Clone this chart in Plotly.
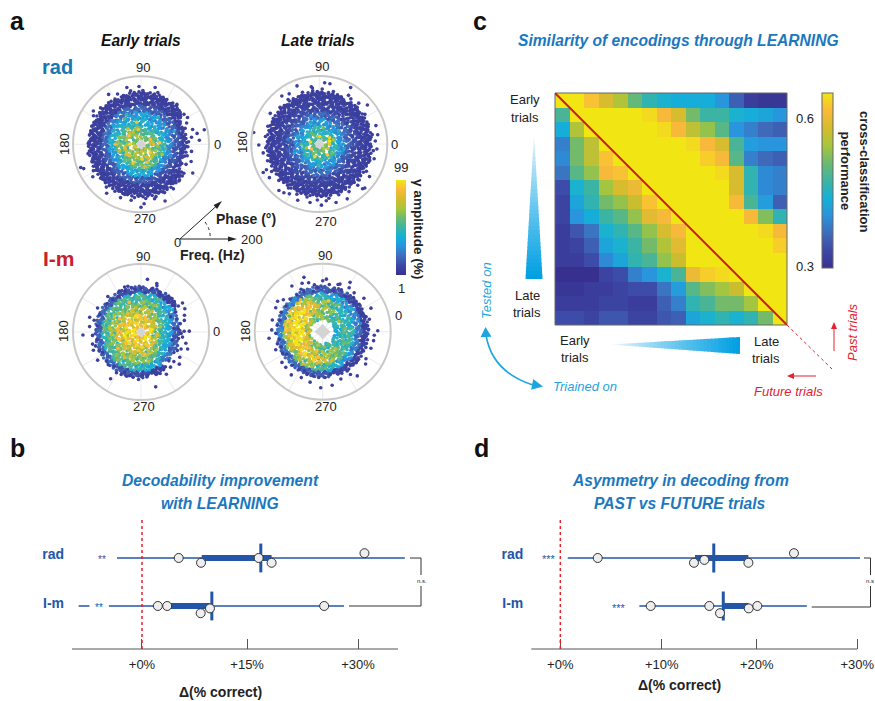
import math
import plotly.graph_objects as go

W, H = 875, 701
FONT = "Liberation Sans"
BLUE_T = "#1b78bf"
BAR_BLUE = "#2356a8"
PARULA = [[0.0, "#38308f"], [0.1, "#3d48a6"], [0.2, "#3f6cbb"], [0.3, "#2a93dc"], [0.4, "#14b1d8"],
          [0.5, "#3cb4a4"], [0.6, "#6cb970"], [0.7, "#a7c63c"], [0.8, "#d4bc2d"], [0.9, "#fbb93a"], [1.0, "#f1e614"]]

# ---------- panel a: gamma amplitude by frequency (Hz) and phase (deg) ----------
THETA_BINS = [0, 22.5, 45, 67.5, 90, 112.5, 135, 157.5, 180, 202.5, 225, 247.5, 270, 292.5, 315, 337.5]
RING_BASES = [15, 35, 55, 75, 95, 115, 135]

RAD_EARLY_GRID = [
    [62, 64, 60, 58, 66, 62, 60, 55, 64, 70, 64, 66, 70, 64, 62, 58],
    [55, 54, 52, 46, 48, 55, 62, 62, 60, 64, 68, 66, 62, 66, 64, 58],
    [46, 40, 38, 34, 38, 42, 48, 54, 54, 50, 52, 54, 54, 54, 46, 48],
    [26, 28, 28, 30, 34, 32, 36, 38, 36, 32, 34, 36, 36, 32, 28, 26],
    [14, 16, 16, 16, 18, 20, 22, 20, 18, 16, 16, 16, 16, 14, 14, 14],
    [8, 8, 8, 8, 8, 8, 8, 8, 8, 8, 8, 8, 8, 8, 8, 8],
    [0, 0, 7, 7, 7, 7, 7, 7, 7, 7, 7, 7, 7, 7, 7, 0],
]
RAD_LATE_GRID = [
    [55, 50, 55, 50, 52, 50, 55, 50, 50, 48, 52, 55, 52, 55, 60, 62],
    [42, 40, 42, 38, 42, 42, 42, 38, 40, 40, 42, 48, 48, 42, 45, 45],
    [30, 28, 28, 28, 30, 30, 28, 28, 26, 26, 28, 30, 32, 28, 30, 28],
    [18, 18, 18, 16, 18, 18, 16, 16, 14, 16, 16, 18, 18, 18, 18, 16],
    [11, 11, 10, 10, 10, 11, 10, 10, 10, 10, 11, 10, 10, 10, 11, 10],
    [8, 8, 8, 8, 8, 8, 8, 8, 8, 8, 8, 8, 8, 8, 8, 8],
    [7, 7, 7, 7, 7, 7, 7, 7, 7, 7, 7, 7, 7, 7, 7, 7],
]
LM_EARLY_GRID = [
    [90, 88, 86, 88, 85, 84, 86, 90, 90, 88, 85, 85, 82, 88, 88, 86],
    [60, 70, 75, 78, 78, 80, 82, 85, 85, 85, 82, 84, 80, 78, 70, 62],
    [44, 52, 58, 64, 66, 68, 70, 74, 74, 74, 72, 70, 68, 64, 56, 46],
    [32, 40, 46, 54, 56, 58, 58, 62, 62, 58, 62, 62, 56, 52, 42, 36],
    [14, 22, 34, 45, 50, 48, 50, 50, 50, 50, 54, 48, 42, 35, 22, 16],
    [0, 0, 8, 12, 14, 12, 16, 18, 16, 18, 18, 14, 12, 8, 0, 0],
    [0, 0, 0, 0, 0, 0, 0, 0, 0, 0, 0, 0, 0, 0, 0, 0],
]
LM_LATE_GRID = [
    [0, 0, 0, 0, 0, 0, 0, 0, 0, 0, 0, 0, 0, 0, 0, 0],
    [38, 42, 48, 52, 60, 58, 62, 64, 70, 68, 66, 62, 56, 45, 44, 40],
    [50, 48, 48, 55, 62, 72, 86, 90, 92, 88, 80, 72, 62, 58, 52, 48],
    [45, 42, 42, 50, 60, 80, 92, 96, 94, 92, 90, 80, 70, 60, 52, 48],
    [20, 25, 28, 36, 44, 60, 75, 80, 78, 70, 62, 58, 48, 38, 30, 22],
    [8, 8, 10, 14, 15, 18, 24, 22, 25, 20, 18, 16, 15, 10, 8, 8],
    [0, 0, 0, 0, 0, 0, 0, 0, 0, 0, 0, 0, 0, 0, 0, 0],
]
# dots per cell of each ring, with a hand-set stipple inside a cell: (phase share, frequency share, amplitude scale)
RING_DOTS = [3, 6, 9, 12, 15, 20, 22]
STIPPLE = [(.12,.30,.80),(.71,.62,1.18),(.38,.88,.95),(.92,.14,1.05),(.55,.33,.85),(.24,.68,1.22),(.83,.91,.90),(.05,.95,1.10),
           (.63,.08,.78),(.44,.56,1.15),(.97,.47,.92),(.31,.12,1.02),(.16,.50,.88),(.76,.28,1.12),(.50,.76,1.00),(.88,.70,.83),
           (.28,.40,1.08),(.60,.96,.86),(.02,.22,.94),(.80,.52,1.14),(.35,.74,.82),(.67,.36,1.04),(.20,.04,.97),(.47,.18,1.2)]

# outer, low-amplitude spikes: (phase, frequency)
RAD_EARLY_OUTER = [(13,191),(4,172),(11,168),(92,170),(104,172),(76,172),(123,175),(145,171),(149,163),(201,190),(203,183),(214,171),(235,176),(249,168),(260,167),(270,185),(273,175),(293,181),(286,160),(331,174),(48,158),(30,158),(16,158),
    (3,140),(8,150),(20,138),(25,148),(35,142),(41,135),(55,146),(60,152),(66,140),(72,160),(82,150),(88,158),(97,148),(101,160),(110,152),(115,163),(120,148),(128,155),(134,142),(138,160),(143,150),(152,146),(158,150),(163,138),(168,152),(174,144),(179,155),(185,147),(190,158),(194,142),(199,152),(205,148),(209,160),(215,145),(220,155),(226,150),(231,162),(236,146),(241,158),(246,148),(252,155),(257,145),(263,158),(268,150),(275,160),(280,148),(284,165),(290,150),(296,158),(301,146),(306,162),(311,145),(316,155),(321,142),(326,152),(336,145),(341,156),(346,140),(352,150),(357,138),
    (10,128),(28,130),(45,126),(62,132),(85,135),(105,136),(125,134),(150,133),(172,132),(192,135),(212,132),(232,136),(250,134),(272,138),(292,136),(312,134),(332,130),(350,126)]
RAD_LATE_OUTER = [(80,180),(85,181),(111,183),(98,170),(97,166),(61,190),(59,167),(128,179),(121,172),(39,182),(46,167),(148,170),(18,175),(9,174),(170,196),(181,178),(189,167),(207,185),(206,173),(214,177),(229,181),(234,177),(239,171),(249,177),(261,174),(272,180),(277,168),(286,179),(297,181),(314,183),(316,186),(313,166),(327,176),(345,167),(355,170),(3,165),
    (5,150),(10,158),(15,148),(22,155),(27,145),(33,160),(38,150),(44,155),(50,148),(55,162),(65,152),(70,145),(75,160),(80,150),(87,162),(92,150),(97,158),(103,148),(108,160),(114,152),(120,145),(125,160),(131,150),(137,158),(143,148),(151,155),(156,146),(161,160),(166,150),(172,160),(177,148),(184,158),(193,150),(198,160),(203,148),(210,162),(217,150),(222,160),(228,148),(235,158),(241,150),(246,162),(252,148),(257,160),(263,150),(268,165),(274,152),(280,162),(284,148),(291,160),(296,150),(302,165),(308,150),(318,158),(323,148),(330,160),(336,148),(342,156),(348,148),(353,160),(358,150),
    (0,138),(40,138),(85,140),(118,136),(150,138),(190,140),(240,136),(270,140),(300,138),(340,136)]
LM_EARLY_OUTER = [(83,156),(72,150),(71,144),(106,140),(110,141),(133,143),(164,157),(174,152),(183,171),(184,143),(201,150),(213,152),(237,164),(245,138),(267,140),(285,167),(301,145),(310,135),(320,147),(340,146),(346,136),(1,142),(1,127),(15,132),(21,137),(28,146),(35,149),(30,118),(49,132),(47,122),(63,124),(76,131),(84,116),(98,126),(131,126),(118,136),(151,146),(166,142),(194,147),(204,135),(220,133),(239,140),(252,137),(260,135),(278,131),(294,115),(314,118),(333,120),(353,123),(6,97),(27,98),(345,95),(328,114),
    (5,110),(12,118),(20,112),(40,122),(55,118),(65,130),(90,128),(102,132),(112,128),(122,124),(140,130),(157,132),(172,130),(190,132),(197,140),(208,128),(225,136),(232,128),(248,128),(256,132),(272,128),(288,125),(305,125),(318,130),(327,136),(337,128),(350,112),(358,118)]
LM_LATE_OUTER = [(109,169),(86,155),(90,150),(113,155),(106,150),(124,162),(117,140),(70,149),(61,166),(72,146),(59,151),(51,147),(39,156),(26,158),(15,142),(1,162),(356,152),(350,152),(341,150),(328,150),(323,158),(308,165),(303,150),(291,149),(280,160),(268,165),(256,153),(245,149),(234,157),(217,150),(187,159),(178,150),(167,152),(146,160),(141,149),(135,136),(153,155),(201,148),(195,138),(208,134),(224,151),(245,127),(258,133),(273,135),(302,136),(320,133),(340,135),(347,115),(7,118),(19,135),(37,134),(43,125),(58,124),(75,124),(96,131),(103,123),
    (3,135),(10,125),(25,130),(32,125),(48,135),(66,135),(82,140),(100,140),(115,130),(125,132),(145,132),(155,135),(165,130),(172,135),(182,138),(190,130),(200,130),(212,125),(228,132),(238,130),(250,132),(265,135),(280,128),(295,125),(312,128),(328,122),(335,130),(352,125)]
OUTER_AMP = 7

# stand-out spikes: (phase, frequency, amplitude)
RAD_EARLY_CORE = [(101,66,92),(145,43,90),(180,76,90),(192,49,85),(180,33,95),(100,44,90),(247,60,92),(288,56,90),(274,43,95),(317,37,93),(5,55,92),(0,37,85),(29,31,88),(130,59,80),(197,66,75),(123,42,75),(280,66,82),(334,69,70),(123,89,55),(116,97,50),(58,94,45),(22,105,38),(101,97,35),(146,100,35),(220,85,45),(268,90,35),(307,94,30),(338,94,30),(189,94,32),(252,90,38)]
RAD_LATE_CORE = [(15,31,99),(31,35,95),(0,30,92),(88,23,95),(167,27,95),(213,27,90),(250,39,95),(307,40,92),(17,43,70),(197,40,70),(180,53,55),(125,40,60),(76,49,60),(324,46,60),(267,62,50),(225,55,45),(160,67,42),(34,68,45),(200,78,38),(347,73,35),(293,83,30),(106,86,30),(172,94,25),(31,100,22)]
LM_EARLY_CORE = [(148,74,90),(172,69,88),(125,67,85),(110,69,80),(197,68,92),(219,55,90),(215,83,88),(262,55,92),(280,66,90),(272,45,95),(317,37,93),(348,48,82),(15,59,70),(39,48,75),(73,42,90),(118,28,96),(200,30,95),(172,34,94),(208,43,90),(255,88,72),(237,89,80),(284,88,75),(174,93,70),(202,95,65),(127,106,60),(112,94,88),(75,88,60),(53,87,50),(0,72,45),(324,77,45)]
LM_LATE_CORE = [(117,95,92),(145,95,95),(171,94,92),(204,85,99),(233,88,95),(260,76,90),(287,89,80),(146,45,80),(331,71,60),(33,56,75),(79,92,92),(100,76,80),(8,67,62),(306,62,75),(252,58,90),(239,111,78),(38,105,45),(188,109,70),(155,108,55),(281,117,35)]

HOLE_THETA = [0, 45, 90, 135, 180, 225, 270, 315]
HOLE_R = [15, 11, 16, 11, 15, 11, 16, 11]
HOLE_R_LM_LATE = [24, 15, 23, 16, 25, 15, 24, 16]

# ---------- panel c ----------
CROSS_PERF_PCT = [
    [65,65,62,58,55,50,46,44,43,43,43,40,35,31,30,30],
    [48,65,65,65,65,65,64,61,58,51,47,47,44,43,42,40],
    [43,55,65,65,65,65,65,64,61,56,53,49,40,38,36,35],
    [38,51,56,65,65,65,65,65,65,64,61,58,48,41,40,40],
    [39,51,56,62,65,65,65,65,65,65,63,61,49,38,36,35],
    [37,49,53,61,62,65,65,65,65,65,65,64,58,46,39,38],
    [33,44,47,54,58,60,65,65,65,65,65,65,58,46,39,38],
    [32,42,46,51,53,57,62,65,65,65,65,65,61,48,41,35],
    [32,40,43,47,49,53,59,61,65,65,65,65,65,61,52,46],
    [31,34,37,44,46,49,53,58,61,65,65,65,65,65,64,61],
    [31,32,35,42,44,47,51,55,59,65,65,65,65,65,65,63],
    [31,31,33,39,42,46,48,53,57,65,65,65,65,65,65,65],
    [29,29,29,32,33,38,40,44,48,60,63,64,65,65,65,65],
    [30,30,31,31,32,33,33,37,41,49,52,54,57,65,65,65],
    [31,31,31,32,32,31,31,35,38,46,48,51,51,54,65,65],
    [33,33,32,34,34,32,32,34,35,42,44,46,44,46,51,65],
]

# ---------- panels b, d ----------
CATS = ["I-m", "rad"]
B_TICKVALS = [0, 14.6, 30]
B_TICKTEXT = ["+0%", "+15%", "+30%"]
B_RANGE_RAD = (-3.47, 36.5, 8.3, 18.0, 16.5)     # whisker lo, hi, box lo, hi, median
B_RANGE_LM = (-4.6, 28.05, 3.3, 9.4, 9.7)
B_RAD_X = [5.1, 8.2, 16.2, 18.0, 30.9]
B_RAD_Y = [2.0, 1.9, 2.0, 1.9, 2.1]
B_LM_X = [2.2, 3.5, 8.15, 9.44, 25.3]
B_LM_Y = [1.0, 1.0, 0.85, 0.95, 1.0]
D_TICKVALS = [0, 10.24, 19.84, 30]
D_TICKTEXT = ["+0%", "+10%", "+20%", "+30%"]
D_RANGE_RAD = (0.75, 30.27, 13.6, 19.0, 15.5)
D_RANGE_LM = (7.98, 24.9, 16.4, 19.0, 16.46)
D_RAD_X = [3.78, 13.5, 14.55, 19.0, 23.6]
D_RAD_Y = [2.0, 1.9, 1.96, 1.9, 2.1]
D_LM_X = [9.13, 15.05, 16.13, 19.03, 19.9]
D_LM_Y = [1.0, 1.0, 0.85, 0.95, 1.0]


def X(p):
    return p / W


def Y(p):
    return 1 - p / H


fig = go.Figure()
shapes = []
annots = []


def text(px, py, s, size=13, color="#222222", bold=False, italic=False, angle=0, anchor="center"):
    if bold:
        s = "<b>" + s + "</b>"
    if italic:
        s = "<i>" + s + "</i>"
    annots.append(dict(x=X(px), y=Y(py), xref="paper", yref="paper", text=s, showarrow=False,
                       xanchor=anchor, yanchor="middle", textangle=angle, align="center",
                       font=dict(family=FONT, size=size, color=color)))


def seg(x0, y0, x1, y1, color="#333333", width=1, dash="solid"):
    shapes.append(dict(type="line", xref="paper", yref="paper", x0=X(x0), y0=Y(y0), x1=X(x1), y1=Y(y1),
                       line=dict(color=color, width=width, dash=dash)))


def poly(pts, color):
    path = "M " + " L ".join(f"{X(a):.5f},{Y(b):.5f}" for a, b in pts) + " Z"
    shapes.append(dict(type="path", xref="paper", yref="paper", path=path, fillcolor=color,
                       line=dict(width=0)))


def head(x0, y0, x1, y1, color, length=8, half=3):
    d = math.hypot(x1 - x0, y1 - y0)
    ux, uy = (x1 - x0) / d, (y1 - y0) / d
    bx, by = x1 - ux * length, y1 - uy * length
    poly([(x1, y1), (bx - uy * half, by + ux * half), (bx + uy * half, by - ux * half)], color)


def arrow(x0, y0, x1, y1, color="#222222", width=1, length=8, half=3):
    d = math.hypot(x1 - x0, y1 - y0)
    sx, sy = x1 - (x1 - x0) / d * (length - 1), y1 - (y1 - y0) / d * (length - 1)
    seg(x0, y0, sx, sy, color, width)
    head(x0, y0, x1, y1, color, length, half)


def mix(t):
    c0, c1 = (255, 255, 255), (0, 159, 227)
    return "rgb(" + ",".join(str(round(a + (b - a) * t)) for a, b in zip(c0, c1)) + ")"


def grad_tri(apex, base_mid, half, n=36):
    ax, ay = apex
    bx, by = base_mid
    L = math.hypot(bx - ax, by - ay)
    ux, uy = (bx - ax) / L, (by - ay) / L
    for i in range(n):
        t0, t1 = i / n, (i + 1.3) / n
        t1 = min(t1, 1)
        a = (ax + (bx - ax) * t0, ay + (by - ay) * t0)
        b = (ax + (bx - ax) * t1, ay + (by - ay) * t1)
        poly([(a[0] - uy * half * t0, a[1] + ux * half * t0), (b[0] - uy * half * t1, b[1] + ux * half * t1),
              (b[0] + uy * half * t1, b[1] - ux * half * t1), (a[0] + uy * half * t0, a[1] - ux * half * t0)],
             mix(min(1, (t0 + 0.02) ** 0.8)))


# ---------- polar panels ----------
R_PX = 68
PANELS = [
    ("polar", 141, 144.3, RAD_EARLY_GRID, RAD_EARLY_OUTER, RAD_EARLY_CORE, HOLE_R),
    ("polar2", 319.3, 144, RAD_LATE_GRID, RAD_LATE_OUTER, RAD_LATE_CORE, HOLE_R),
    ("polar3", 141, 332, LM_EARLY_GRID, LM_EARLY_OUTER, LM_EARLY_CORE, HOLE_R),
    ("polar4", 322.7, 331.7, LM_LATE_GRID, LM_LATE_OUTER, LM_LATE_CORE, HOLE_R_LM_LATE),
]
SECTOR = 22.5
RING_W = 20
layout_polar = {}
for name, cx, cy, grid, outer, core, hole in PANELS:
    cells = []
    for ri, (b, row) in enumerate(zip(RING_BASES, grid)):
        for si, (t, v) in enumerate(zip(THETA_BINS, row)):
            if not v:
                continue
            for k in range(RING_DOTS[ri]):
                fa, fr, sc = STIPPLE[(k + ri * 3 + si * 5) % len(STIPPLE)]
                cells.append((v * sc, t - SECTOR / 2 + fa * SECTOR, b + fr * RING_W))
    cells.sort()
    fig.add_trace(go.Scatterpolar(subplot=name, theta=[c[1] for c in cells], r=[c[2] for c in cells],
                                  mode="markers", showlegend=False, hoverinfo="skip",
                                  marker=dict(size=3.6, color=[c[0] for c in cells], coloraxis="coloraxis")))
    fig.add_trace(go.Scatterpolar(subplot=name, theta=[p[0] for p in outer], r=[p[1] for p in outer],
                                  mode="markers", showlegend=False,
                                  marker=dict(size=3.6, color=[OUTER_AMP] * len(outer), coloraxis="coloraxis")))
    fig.add_trace(go.Scatterpolar(subplot=name, theta=[p[0] for p in core], r=[p[1] for p in core],
                                  mode="markers", showlegend=False,
                                  marker=dict(size=3.6, color=[p[2] for p in core], coloraxis="coloraxis")))
    fig.add_trace(go.Scatterpolar(subplot=name, theta=HOLE_THETA, r=hole, mode="lines", fill="toself",
                                  fillcolor="#d4d4d4", line=dict(width=0, color="#d4d4d4"),
                                  showlegend=False, hoverinfo="skip"))
    layout_polar[name] = dict(
        domain=dict(x=[X(cx - R_PX), X(cx + R_PX)], y=[Y(cy + R_PX), Y(cy - R_PX)]),
        bgcolor="white",
        radialaxis=dict(visible=False, range=[0, 200]),
        angularaxis=dict(dtick=30, showticklabels=False, ticks="", linecolor="#c9c9c9", linewidth=2,
                         gridcolor="#ebebeb", gridwidth=1),
    )

POLAR_LABELS = [
    ((143, 68), (64, 144), (217, 144), (145, 219)),
    ((322, 66), (243, 142), (394, 144), (326, 222)),
    ((143, 256), (63, 331), (216, 331), (144, 406)),
    ((325, 255), (245, 331), (398, 315), (326, 406)),
]
for p90, p180, p0, p270 in POLAR_LABELS:
    text(*p90, "90")
    text(*p180, "180", angle=-90)
    text(*p0, "0")
    text(*p270, "270")

text(17, 21, "a", 25, "#111111", bold=True)
text(17, 448, "b", 25, "#111111", bold=True)
text(480, 21, "c", 25, "#111111", bold=True)
text(482, 448, "d", 25, "#111111", bold=True)
text(141, 41, "Early trials", 15.6, "#111111", True, True)
text(318, 41, "Late trials", 15.6, "#111111", True, True)
text(57, 67, "rad", 20, "#1a76ae", True)
text(59, 258, "I-m", 21, "#c8202f", True)

# phase/frequency key
arrow(180, 239, 237, 239, "#222222", 1, 9, 2.6)
arrow(180, 239, 222, 201, "#222222", 1, 9, 2.6)
shapes.append(dict(type="path", xref="paper", yref="paper", line=dict(color="#222222", width=1, dash="dot"),
                   path=f"M {X(205)},{Y(222)} Q {X(211)},{Y(230)} {X(210)},{Y(239)}"))
text(177, 243, "0", 13)
text(252, 239, "200", 13)
text(246, 219, "Phase (°)", 14, "#222222", True)
text(212, 255, "Freq. (Hz)", 14, "#222222", True)
text(401, 167, "99", 13)
text(401, 288, "1", 13)
text(419, 229, "γ amplitude (%)", 13.6, "#222222", True, angle=90)

# ---------- heatmap ----------
fig.add_trace(go.Heatmap(z=CROSS_PERF_PCT, coloraxis="coloraxis2", xaxis="x", yaxis="y", xgap=0, ygap=0,
                         showlegend=False))
shapes.append(dict(type="rect", xref="paper", yref="paper", x0=X(555), x1=X(787), y0=Y(325), y1=Y(93),
                   line=dict(color="#666666", width=1)))
shapes.append(dict(type="line", xref="x", yref="y", x0=-0.5, y0=-0.5, x1=15.5, y1=15.5,
                   line=dict(color="#d01c24", width=2)))
seg(787, 325, 832, 369, "#e0202c", 1, "dot")

text(678, 40, "Similarity of encodings through LEARNING", 15.6, BLUE_T, True, True)
text(525, 100, "Early", 13); text(525, 117, "trials", 13)
text(527, 295, "Late", 13); text(527, 312, "trials", 13)
text(575, 340, "Early", 13); text(575, 357, "trials", 13)
text(766, 341, "Late", 13); text(766, 358, "trials", 13)
grad_tri((534, 133), (534, 279), 8.5)
grad_tri((610, 344.5), (740, 345.5), 8.5)
C_BLUE = "#1ea5e0"
shapes.append(dict(type="path", xref="paper", yref="paper", line=dict(color=C_BLUE, width=1.6),
                   path=f"M {X(486)},{Y(335)} Q {X(492)},{Y(372)} {X(533)},{Y(385)}"))
head(486, 337, 485.5, 327, C_BLUE, 10, 5.5)
head(530, 384, 543, 386.5, C_BLUE, 11, 5.5)
text(486, 290, "Tested on", 13, C_BLUE, italic=True, angle=-90)
text(585, 386, "Triained on", 13, C_BLUE, italic=True)
C_RED = "#e5202e"
arrow(834, 351, 834, 322, C_RED, 1, 7, 3)
arrow(816, 376, 787, 376, C_RED, 1, 7, 3)
text(852, 332, "Past trials", 13, C_RED, italic=True, angle=-90)
text(788, 391, "Future trials", 13, C_RED, italic=True)
text(805, 119, "0.6", 13)
text(805, 266, "0.3", 13)
text(865, 171, "cross-classification", 13, "#222222", True, angle=90)
text(845.5, 171, "performance", 13, "#222222", True, angle=90)


# ---------- b, d ----------
def forest(xa, ya, rad, lm, rx, ry, lx, ly):
    for yv, (lo, hi, q1, q3, med) in ((2, rad), (1, lm)):
        fig.add_trace(go.Scatter(x=[lo, hi], y=[yv, yv], xaxis=xa, yaxis=ya, mode="lines", cliponaxis=False,
                                 line=dict(color=BAR_BLUE, width=1.5), showlegend=False))
        fig.add_trace(go.Scatter(x=[q1, q3], y=[yv, yv], xaxis=xa, yaxis=ya, mode="lines", cliponaxis=False,
                                 line=dict(color=BAR_BLUE, width=6), showlegend=False))
        fig.add_trace(go.Scatter(x=[med, med], y=[yv - 0.3, yv + 0.3], xaxis=xa, yaxis=ya, mode="lines",
                                 cliponaxis=False, line=dict(color=BAR_BLUE, width=3), showlegend=False))
    fig.add_trace(go.Scatter(x=rx + lx, y=ry + ly, xaxis=xa, yaxis=ya, mode="markers", cliponaxis=False,
                             marker=dict(size=9, color="#eeeeee", line=dict(color="#333333", width=1)),
                             showlegend=False))


forest("x2", "y2", B_RANGE_RAD, B_RANGE_LM, B_RAD_X, B_RAD_Y, B_LM_X, B_LM_Y)
forest("x3", "y3", D_RANGE_RAD, D_RANGE_LM, D_RAD_X, D_RAD_Y, D_LM_X, D_LM_Y)
# extra dash at the far left of the I-m row in b
fig.add_trace(go.Scatter(x=[-8.8, -7.3], y=[1, 1], xaxis="x2", yaxis="y2", mode="lines", cliponaxis=False,
                         line=dict(color=BAR_BLUE, width=1.5), showlegend=False))
for xa, ya in (("x2", "y2"), ("x3", "y3")):
    shapes.append(dict(type="line", xref=xa, yref=ya, x0=0, x1=0, y0=0.104, y1=2.854,
                       line=dict(color="#e8202c", width=1.5, dash="3px,3px")))
# axis baselines end before the rows do
seg(72, 649, 398, 649, "#555555", 1)
seg(531.3, 649, 857.3, 649, "#555555", 1)

text(220, 480, "Decodability improvement", 15.7, BLUE_T, True, True)
text(220, 503, "with LEARNING", 15.7, BLUE_T, True, True)
text(680, 480, "Asymmetry in decoding from", 15.6, BLUE_T, True, True)
text(680, 503, "PAST vs FUTURE trials", 15.6, BLUE_T, True, True)
text(220, 692, "Δ(% correct)", 14, "#222222", True)
text(679, 685, "Δ(% correct)", 14, "#222222", True)
text(102, 559, "**", 10, BAR_BLUE)
text(99, 607, "**", 10, BAR_BLUE)
text(549, 559, "***", 11, BAR_BLUE)
text(619, 608, "***", 11, BAR_BLUE)
seg(410, 558, 421, 558); seg(421, 558, 421, 575); seg(421, 586, 421, 606); seg(421, 606, 349, 606)
text(422, 581, "n.s.", 6)
seg(864, 558, 870.5, 558); seg(870.5, 558, 870.5, 575); seg(870.5, 586, 870.5, 607); seg(870.5, 607, 811.7, 607)
text(870, 581, "n.s", 6)

AX_TICK = dict(showgrid=False, zeroline=False, showline=False, ticks="inside",
               ticklen=10, tickcolor="#555555", tickwidth=1, tickfont=dict(family=FONT, size=13, color="#222222"),
               ticklabelstandoff=6)
AX_CAT = dict(showgrid=False, zeroline=False, showline=False, ticks="", tickvals=[1.06, 2.08], ticktext=["<b>" + c + "</b>" for c in CATS],
              tickfont=dict(family=FONT, size=14, color=BAR_BLUE), range=[0.104, 2.854], ticklabelstandoff=7)

fig.update_layout(
    width=W, height=H, margin=dict(l=0, r=0, t=0, b=0, pad=0, autoexpand=False), paper_bgcolor="white", plot_bgcolor="white",
    showlegend=False, shapes=shapes, annotations=annots,
    font=dict(family=FONT),
    coloraxis=dict(cmin=1, cmax=99, colorscale=PARULA,
                   colorbar=dict(x=X(396), xanchor="left", y=Y(275), yanchor="bottom", len=(275 - 179.5) / H,
                                 thickness=10, xpad=0, ypad=0, outlinewidth=0, ticks="", showticklabels=False)),
    coloraxis2=dict(cmin=29, cmax=65, colorscale=PARULA,
                    colorbar=dict(x=X(821.7), xanchor="left", y=Y(268), yanchor="bottom", len=(268 - 93) / H,
                                  thickness=11, xpad=0, ypad=0, outlinewidth=1, outlinecolor="#666666",
                                  ticks="", showticklabels=False)),
    xaxis=dict(domain=[X(555), X(787)], visible=False, range=[-0.5, 15.5]),
    yaxis=dict(domain=[Y(325), Y(93)], visible=False, range=[15.5, -0.5]),
    xaxis2=dict(domain=[X(72), X(420)], range=[-9.72, 38.61], anchor="y2", tickvals=B_TICKVALS, ticktext=B_TICKTEXT, **AX_TICK),
    yaxis2=dict(domain=[Y(649), Y(517)], anchor="x2", **AX_CAT),
    xaxis3=dict(domain=[X(531.3), X(870)], range=[-2.93, 31.28], anchor="y3", tickvals=D_TICKVALS, ticktext=D_TICKTEXT, **AX_TICK),
    yaxis3=dict(domain=[Y(649), Y(517)], anchor="x3", **AX_CAT),
    **layout_polar,
)

fig.write_html("out.html", config=dict(displayModeBar=False, responsive=False),
               default_width=f"{W}px", default_height=f"{H}px",
               post_script="document.body.style.margin='0';document.body.style.overflow='hidden';window.scrollTo(0,0);")
